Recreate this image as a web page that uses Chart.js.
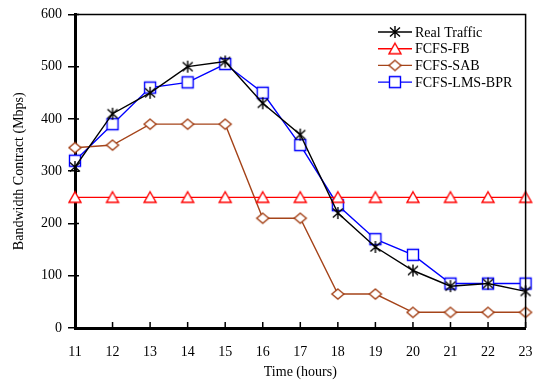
<!DOCTYPE html>
<html>
<head>
<meta charset="utf-8">
<script src="https://cdn.jsdelivr.net/npm/chart.js@4"></script>
<style>
  html, body { margin: 0; padding: 0; background: #fff; }
  #wrap { width: 533px; height: 381px; }
</style>
</head>
<body>
<div id="wrap"><canvas id="chart"></canvas></div>
<script>
const hours = ['11', '12', '13', '14', '15', '16', '17', '18', '19', '20', '21', '22', '23'];
const realTraffic = [308, 410, 450, 500, 510, 430, 370, 220, 155, 110, 80, 85, 70];
const fcfsFb = [250, 250, 250, 250, 250, 250, 250, 250, 250, 250, 250, 250, 250];
const fcfsSab = [345, 350, 390, 390, 390, 210, 210, 65, 65, 30, 30, 30, 30];
const fcfsLmsBpr = [320, 390, 460, 470, 505, 450, 350, 235, 170, 140, 85, 85, 85];
const yTicks = [0, 100, 200, 300, 400, 500, 600];

const BROWN = '#a5441a';
const FONT = '"Liberation Serif", "Times New Roman", serif';

// small canvases used as point markers (asterisk is not a built-in style)
function makeMarker(type, color) {
  const c = document.createElement('canvas');
  c.width = 16;
  c.height = 16;
  const g = c.getContext('2d');
  g.strokeStyle = color;
  g.fillStyle = '#fff';
  g.lineWidth = 1.4;
  g.beginPath();
  if (type === 'star') {
    g.moveTo(8, 2); g.lineTo(8, 14);
    g.moveTo(3, 3.5); g.lineTo(13, 12.5);
    g.moveTo(13, 3.5); g.lineTo(3, 12.5);
  } else if (type === 'triangle') {
    g.moveTo(8, 2.5); g.lineTo(14, 13); g.lineTo(2, 13); g.closePath();
    g.fill();
  } else if (type === 'diamond') {
    g.moveTo(8, 3); g.lineTo(14, 8); g.lineTo(8, 13); g.lineTo(2, 8); g.closePath();
    g.fill();
  } else {
    g.rect(2.5, 2.5, 11, 11);
    g.fill();
  }
  g.stroke();
  return c;
}

const series = [
  { label: 'Real Traffic', data: realTraffic, color: '#000000', marker: makeMarker('star', '#000000') },
  { label: 'FCFS-FB', data: fcfsFb, color: '#ff0000', marker: makeMarker('triangle', '#ff0000') },
  { label: 'FCFS-SAB', data: fcfsSab, color: BROWN, marker: makeMarker('diamond', BROWN) },
  { label: 'FCFS-LMS-BPR', data: fcfsLmsBpr, color: '#0000ff', marker: makeMarker('square', '#0000ff') }
];

const framePlugin = {
  id: 'frame',
  afterDatasetsDraw(chart) {
    const { ctx, chartArea: a, scales } = chart;
    ctx.save();
    ctx.strokeStyle = '#000';
    ctx.lineWidth = 1.5;
    ctx.beginPath();
    ctx.moveTo(a.left, a.top);
    ctx.lineTo(a.right, a.top);
    ctx.lineTo(a.right, a.bottom);
    ctx.stroke();

    // x ticks point inward, y ticks poke a little inside too
    ctx.beginPath();
    hours.forEach((h, i) => {
      const x = scales.x.getPixelForValue(i);
      ctx.moveTo(x, a.bottom);
      ctx.lineTo(x, a.bottom - 6);
    });
    yTicks.forEach((v) => {
      const y = scales.y.getPixelForValue(v);
      ctx.moveTo(a.left, y);
      ctx.lineTo(a.left + 4, y);
    });
    ctx.stroke();

    // legend inside the plot
    ctx.font = '14px ' + FONT;
    ctx.textBaseline = 'middle';
    ctx.fillStyle = '#000';
    series.forEach((s, i) => {
      const y = 32 + i * 16.7;
      ctx.strokeStyle = s.color;
      ctx.lineWidth = 1.4;
      ctx.beginPath();
      ctx.moveTo(378, y);
      ctx.lineTo(412, y);
      ctx.stroke();
      ctx.drawImage(s.marker, 395 - 8, y - 8);
      ctx.fillText(s.label, 415, y + 1);
    });
    ctx.restore();
  }
};

new Chart(document.getElementById('chart'), {
  type: 'line',
  data: {
    labels: hours,
    datasets: series.map((s) => ({
      label: s.label,
      data: s.data,
      borderColor: s.color,
      backgroundColor: '#fff',
      borderWidth: 1.4,
      pointStyle: s.marker,
      pointRadius: 6,
      tension: 0,
      fill: false
    }))
  },
  options: {
    responsive: true,
    maintainAspectRatio: false,
    animation: false,
    layout: { padding: { top: 14, right: 0, left: 11, bottom: 0 } },
    plugins: {
      legend: { display: false },
      tooltip: { enabled: false }
    },
    scales: {
      x: {
        offset: false,
        grid: { display: false, drawTicks: true, tickLength: 16 },
        border: { color: '#000', width: 3 },
        ticks: { color: '#000', font: { family: FONT, size: 14 }, padding: 0, maxRotation: 0 },
        title: { display: true, text: 'Time (hours)', color: '#000', font: { family: FONT, size: 14 }, padding: { top: 4, bottom: 0 } },
        afterFit(scale) { scale.height = 53; }
      },
      y: {
        min: 0,
        max: 600,
        afterBuildTicks(scale) { scale.ticks = yTicks.map((v) => ({ value: v })); },
        grid: { drawOnChartArea: false, drawTicks: true, tickLength: 7, color: '#000', lineWidth: 1.5 },
        border: { color: '#000', width: 3 },
        ticks: { color: '#000', font: { family: FONT, size: 14 }, padding: 6 },
        title: { display: true, text: 'Bandwidth Contract (Mbps)', color: '#000', font: { family: FONT, size: 14 }, padding: { top: 0, bottom: 0 } },
        afterFit(scale) { scale.width = 64; }
      }
    }
  },
  plugins: [framePlugin]
});
</script>
</body>
</html>
